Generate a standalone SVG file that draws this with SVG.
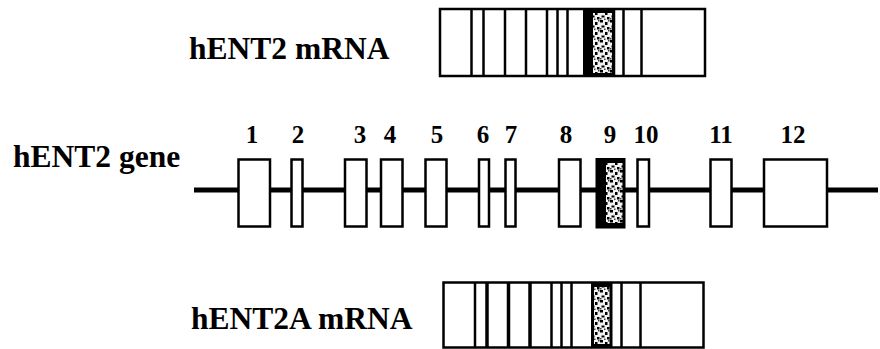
<svg xmlns="http://www.w3.org/2000/svg" width="880" height="349" viewBox="0 0 880 349">
<style>
.lbl{font-family:"Liberation Serif","Times New Roman",serif;font-weight:bold;font-size:31.5px;fill:#000}
.num{font-family:"Liberation Serif","Times New Roman",serif;font-weight:bold;font-size:25px;fill:#000;text-anchor:middle}
.box{fill:#fff;stroke:#000;stroke-width:2.5}
.sep{stroke:#000;stroke-width:2.5}
.thk{stroke:#000;stroke-width:3.5}
.blk{fill:#000}
.spk{fill:url(#speckle)}
</style>
<defs>
<pattern id="speckle" width="10" height="10" patternUnits="userSpaceOnUse">
<rect width="10" height="10" fill="#f2f2f2"/>
<rect x="0" y="0" width="3" height="2.5" fill="#000"/>
<rect x="5" y="2" width="2.5" height="3" fill="#000"/>
<rect x="1.5" y="5.5" width="3" height="2" fill="#000"/>
<rect x="7" y="7" width="2.5" height="2.5" fill="#000"/>
<rect x="8" y="0" width="1.5" height="1.5" fill="#444"/>
<rect x="0" y="8" width="1.5" height="1.5" fill="#444"/>
<rect x="4" y="8.5" width="1.5" height="1.5" fill="#444"/>
</pattern>
</defs>

<g id="label-hent2-mrna"><text class="lbl" x="189" y="59">hENT2 mRNA</text></g>
<g id="label-hent2-gene"><text class="lbl" x="13" y="167">hENT2 gene</text></g>
<g id="label-hent2a-mrna"><text class="lbl" x="191" y="329">hENT2A mRNA</text></g>

<g id="hent2-mrna">
<rect class="box" x="440" y="9" width="265" height="67"/>
<line class="sep" x1="471.5" y1="9" x2="471.5" y2="76"/>
<line class="sep" x1="483.5" y1="9" x2="483.5" y2="76"/>
<line class="sep" x1="505" y1="9" x2="505" y2="76"/>
<line class="sep" x1="526" y1="9" x2="526" y2="76"/>
<line class="sep" x1="547" y1="9" x2="547" y2="76"/>
<line class="sep" x1="557.5" y1="9" x2="557.5" y2="76"/>
<line class="sep" x1="567.5" y1="9" x2="567.5" y2="76"/>
<rect class="blk" x="583" y="9" width="31" height="67"/>
<rect class="spk" x="593" y="13" width="19" height="60"/>
<line class="sep" x1="614" y1="9" x2="614" y2="76"/>
<line class="sep" x1="623.5" y1="9" x2="623.5" y2="76"/>
<line class="sep" x1="641.5" y1="9" x2="641.5" y2="76"/>
</g>

<g id="connectors">
<line x1="194" y1="190" x2="878" y2="190" stroke="#000" stroke-width="5"/>
</g>

<g id="exon-1"><rect class="box" x="238.5" y="159.5" width="31.5" height="67"/><text class="num" x="252" y="143">1</text></g>
<g id="exon-2"><rect class="box" x="291.5" y="159.5" width="11" height="67"/><text class="num" x="298" y="143">2</text></g>
<g id="exon-3"><rect class="box" x="345" y="159.5" width="21.5" height="67"/><text class="num" x="360" y="143">3</text></g>
<g id="exon-4"><rect class="box" x="381" y="159.5" width="21.5" height="67"/><text class="num" x="390" y="143">4</text></g>
<g id="exon-5"><rect class="box" x="425.5" y="159.5" width="21" height="67"/><text class="num" x="437" y="143">5</text></g>
<g id="exon-6"><rect class="box" x="479" y="159.5" width="10" height="67"/><text class="num" x="483" y="143">6</text></g>
<g id="exon-7"><rect class="box" x="505.5" y="159.5" width="10" height="67"/><text class="num" x="511" y="143">7</text></g>
<g id="exon-8"><rect class="box" x="559" y="159.5" width="21.5" height="67"/><text class="num" x="566" y="143">8</text></g>
<g id="exon-9"><rect class="blk" x="595.5" y="158" width="30" height="70.5"/><rect class="spk" x="606" y="163" width="16.5" height="60"/><text class="num" x="610" y="143">9</text></g>
<g id="exon-10"><rect class="box" x="637.5" y="159.5" width="11.5" height="67"/><text class="num" x="646" y="143">10</text></g>
<g id="exon-11"><rect class="box" x="710.5" y="159.5" width="21" height="67"/><text class="num" x="721" y="143">11</text></g>
<g id="exon-12"><rect class="box" x="764" y="159.5" width="63" height="67"/><text class="num" x="793" y="143">12</text></g>

<g id="hent2a-mrna">
<rect class="box" x="443.5" y="282.5" width="260" height="65"/>
<line class="sep" x1="475" y1="282.5" x2="475" y2="347.5"/>
<line class="thk" x1="487" y1="282.5" x2="487" y2="347.5"/>
<line class="thk" x1="508.5" y1="282.5" x2="508.5" y2="347.5"/>
<line class="thk" x1="530" y1="282.5" x2="530" y2="347.5"/>
<line class="sep" x1="551.5" y1="282.5" x2="551.5" y2="347.5"/>
<line class="sep" x1="561.5" y1="282.5" x2="561.5" y2="347.5"/>
<line class="sep" x1="571.5" y1="282.5" x2="571.5" y2="347.5"/>
<rect class="blk" x="591" y="282.5" width="21.5" height="65"/>
<rect class="spk" x="594" y="287" width="15.5" height="57"/>
<line class="sep" x1="621.5" y1="282.5" x2="621.5" y2="347.5"/>
<line class="sep" x1="640.5" y1="282.5" x2="640.5" y2="347.5"/>
</g>
</svg>
